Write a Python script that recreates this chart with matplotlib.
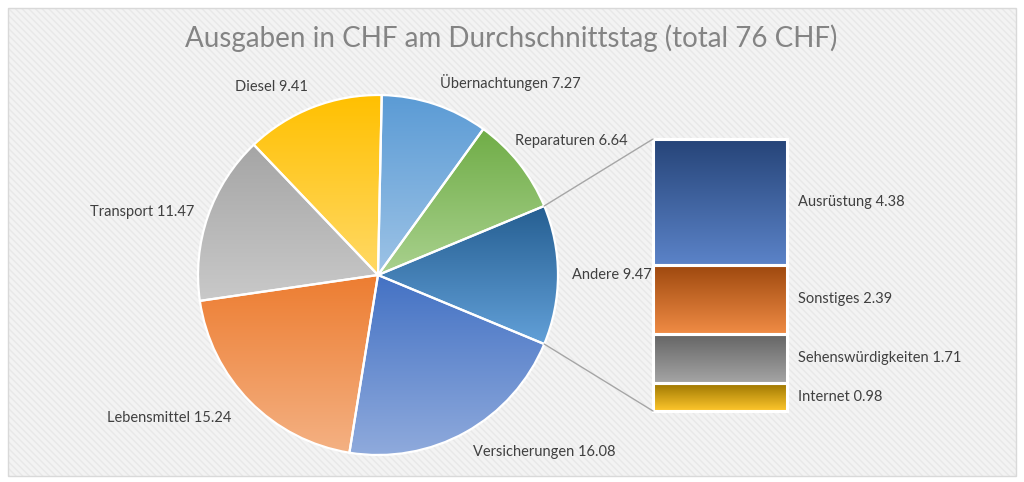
import numpy as np
import matplotlib
matplotlib.use('Agg')
import matplotlib.pyplot as plt
from matplotlib.patches import Rectangle, ConnectionPatch
from matplotlib.colors import LinearSegmentedColormap

# Pie slices, counterclockwise starting with the "Andere" slice on the right
pie_labels = ['Andere', 'Reparaturen', 'Übernachtungen', 'Diesel', 'Transport', 'Lebensmittel', 'Versicherungen']
pie_values = [9.47, 6.64, 7.27, 9.41, 11.47, 15.24, 16.08]
# Breakdown of "Andere", bottom to top
bar_labels = ['Internet', 'Sehenswürdigkeiten', 'Sonstiges', 'Ausrüstung']
bar_values = [0.98, 1.71, 2.39, 4.38]

title = 'Ausgaben in CHF am Durchschnittstag (total 76 CHF)'

# gradient colours (top, bottom)
pie_grad = [('#255e91', '#62a0d8'), ('#70ad47', '#a9d18e'), ('#5b9bd5', '#9dc3e6'),
            ('#ffc000', '#ffd966'), ('#a5a5a5', '#c9c9c9'), ('#ed7d31', '#f4b183'),
            ('#4472c4', '#8faadc')]
bar_grad = [('#997300', '#ffc72c'), ('#636363', '#a5a5a5'), ('#9e480e', '#f08c45'),
            ('#264478', '#5b83c8')]
# small manual nudges for labels (pixels), like Excel does to dodge the connector
label_nudge = {'Reparaturen': (-15, -6), 'Lebensmittel': (-8, 0)}

plt.rcParams['font.family'] = ['Lato', 'DejaVu Sans']
W, H = 1024, 482
fig = plt.figure(figsize=(W / 100, H / 100), dpi=100)
ax = fig.add_axes([0, 0, 1, 1])

# chart area background with fine diagonal stripes
plt.rcParams['hatch.linewidth'] = 1.0
ax.add_patch(Rectangle((7.5, 6.5), 1008, 468, facecolor='#f3f3f3', edgecolor='#e8e8e8',
                       hatch='\\\\\\\\\\', linewidth=0, zorder=0))
ax.add_patch(Rectangle((7.5, 6.5), 1008, 468, fill=False, edgecolor='#d9d9d9', linewidth=1, zorder=1))

cx, cy, R = 378, 207, 180
total = sum(pie_values)
start = -pie_values[0] / total * 360 / 2
wedges, _ = ax.pie(pie_values, startangle=start, counterclock=True, center=(cx, cy), radius=R,
                   wedgeprops=dict(facecolor='none', edgecolor='white', linewidth=1.6, zorder=4))

def fill_gradient(axis, patch, top, bottom, extent):
    cmap = LinearSegmentedColormap.from_list('g', [top, bottom])
    grad = np.linspace(0, 1, 256).reshape(-1, 1)
    im = axis.imshow(grad, cmap=cmap, extent=extent, aspect='auto', origin='upper',
                     interpolation='bilinear', zorder=3)
    im.set_clip_path(patch)

for w, (c_top, c_bot) in zip(wedges, pie_grad):
    ext = w.get_path().get_extents()
    fill_gradient(ax, w, c_top, c_bot, (ext.x0, ext.x1, ext.y0, ext.y1))

# slice labels just outside the rim
for w, name, val in zip(wedges, pie_labels, pie_values):
    mid = np.deg2rad((w.theta1 + w.theta2) / 2)
    c, s = np.cos(mid), np.sin(mid)
    ha = 'center' if abs(c) < 0.05 else ('left' if c > 0 else 'right')
    va = 'bottom' if s > 0.45 else ('top' if s < -0.45 else 'center')
    dx, dy = label_nudge.get(name, (0, 0))
    ax.text(cx + 1.08 * R * c + dx, cy + 1.08 * R * s - dy, f'{name} {val:.2f}', ha=ha, va=va,
            fontsize=10.5, color='#404040', zorder=5)

ax.text(511, H - 38, title, ha='center', va='center', fontsize=20, color='#848484', zorder=5)

ax.set_xlim(0, W)
ax.set_ylim(0, H)
ax.set_aspect('auto')
ax.axis('off')

# stacked bar for the breakdown
bax = fig.add_axes([653 / W, (H - 411) / H, 134 / W, 272 / H])
bottoms = np.concatenate([[0], np.cumsum(bar_values)[:-1]])
bars = bax.bar(0, bar_values, bottom=bottoms, width=1, facecolor='none', edgecolor='white',
               linewidth=2.2, zorder=4, clip_on=False)
for b, (c_top, c_bot) in zip(bars, bar_grad):
    x0, y0 = b.get_x(), b.get_y()
    fill_gradient(bax, b, c_top, c_bot, (x0, x0 + b.get_width(), y0, y0 + b.get_height()))
for b, name, val in zip(bars, bar_labels, bar_values):
    bax.annotate(f'{name} {val:.2f}', xy=(0.5, b.get_y() + b.get_height() / 2),
                 xytext=(8, 0), textcoords='offset points', ha='left', va='center',
                 fontsize=10.5, color='#404040', annotation_clip=False)
bax.set_xlim(-0.5, 0.5)
bax.set_ylim(0, sum(bar_values))
bax.axis('off')

# connector lines from the "Andere" slice to the bar
andere = wedges[0]
for ang, yb in [(andere.theta2, sum(bar_values)), (andere.theta1, 0)]:
    a = np.deg2rad(ang)
    con = ConnectionPatch(xyA=(cx + R * np.cos(a), cy + R * np.sin(a)), coordsA='data', axesA=ax,
                          xyB=(-0.5, yb), coordsB='data', axesB=bax, color='#a6a6a6', linewidth=1)
    fig.add_artist(con)

fig.savefig('out.png', dpi=100)
